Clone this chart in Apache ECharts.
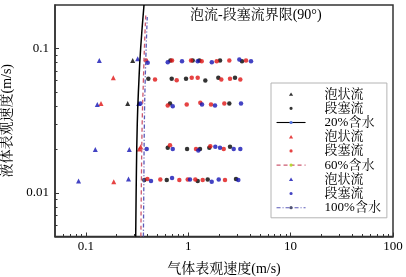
<!DOCTYPE html>
<html>
<head>
<meta charset="utf-8">
<title>泡流-段塞流界限</title>
<script src="https://cdn.jsdelivr.net/npm/echarts@6/dist/echarts.min.js"></script>
</head>
<body style="margin:0">
<div id="main" style="width:406px;height:277px;"></div>
<script>
// 刻度
var xTicks = [0.1, 1, 10, 100];
var xMinorTicks = [0.06, 0.07, 0.08, 0.09, 0.2, 0.3, 0.4, 0.5, 0.6, 0.7, 0.8, 0.9,
    2, 3, 4, 5, 6, 7, 8, 9, 20, 30, 40, 50, 60, 70, 80, 90];
var yTicks = [0.01, 0.1];
var yMinorTicks = [0.006, 0.007, 0.008, 0.009, 0.02, 0.03, 0.04, 0.05, 0.06, 0.07, 0.08, 0.09];

// 20%含水
var bubble20 = [[0.287, 0.0826], [0.2565, 0.0416]];
var slug20 = [
    [0.67, 0.0826], [1.106, 0.0826], [1.284, 0.0826], [2.045, 0.0826], [3.353, 0.0817],
    [0.408, 0.0617], [0.69, 0.0617], [0.952, 0.0617], [1.469, 0.060], [1.968, 0.0627], [2.864, 0.0627],
    [0.664, 0.0416], [2.52, 0.0416],
    [0.631, 0.0206], [0.975, 0.0202], [1.304, 0.0202], [1.607, 0.0206], [2.56, 0.0209],
    [0.3726, 0.0123], [0.617, 0.0123], [1.238, 0.0121], [1.55, 0.0124], [2.929, 0.0125]
];
var line20 = [[0.307, 0.005], [0.31, 0.01], [0.318, 0.03], [0.33, 0.06], [0.343, 0.1], [0.37, 0.2]];

// 60%含水
var bubble60 = [[0.1856, 0.0627], [0.1407, 0.0416], [0.1873, 0.01196], [0.333, 0.0202], [0.3436, 0.0209]];
var slug60 = [
    [0.387, 0.0826], [0.695, 0.0826], [1.065, 0.0826], [1.354, 0.0817], [1.898, 0.0817], [2.52, 0.0826], [3.669, 0.0826],
    [0.474, 0.061], [0.772, 0.0603], [1.082, 0.0627], [1.238, 0.0627], [2.105, 0.061], [2.56, 0.0617], [3.227, 0.061],
    [0.631, 0.0403], [0.967, 0.041], [1.313, 0.0421], [1.67, 0.041], [2.252, 0.0416],
    [0.664, 0.0214], [1.192, 0.0202], [1.644, 0.0211], [2.222, 0.0202],
    [0.399, 0.0125], [0.534, 0.0124], [0.819, 0.0123], [0.989, 0.0124], [1.173, 0.0124], [1.385, 0.0123], [2.288, 0.0123]
];
var line60 = [[0.345, 0.005], [0.348, 0.01], [0.355, 0.03], [0.365, 0.06], [0.375, 0.11], [0.385, 0.17]];

// 100%含水
var bubble100 = [[0.1354, 0.0826], [0.3212, 0.0849], [0.1295, 0.041], [0.3285, 0.0416],
    [0.1238, 0.0200], [0.266, 0.0200], [0.0849, 0.0121], [0.2612, 0.0125]];
var slug100 = [
    [0.402, 0.0796], [0.631, 0.0804], [0.87, 0.0817], [1.238, 0.0817], [1.70, 0.0804], [3.155, 0.0839], [4.105, 0.0817],
    [0.342, 0.0416], [0.706, 0.0399], [1.364, 0.041], [1.827, 0.0403], [3.278, 0.0416],
    [0.393, 0.0202], [0.706, 0.0202], [1.255, 0.0197], [1.839, 0.0209], [2.045, 0.0206], [2.782, 0.0202], [3.227, 0.0202],
    [0.433, 0.0121], [0.695, 0.0127], [1.041, 0.0124], [1.696, 0.01196], [1.986, 0.0124], [3.085, 0.0123]
];
var line100 = [[0.365, 0.005], [0.368, 0.01], [0.373, 0.03], [0.38, 0.06], [0.39, 0.11], [0.398, 0.165]];

var legendNames = {
    b20: '泡状流', s20: '段塞流', l20: '20%含水',
    b60: '泡状流', s60: '段塞流', l60: '60%含水',
    b100: '泡状流', s100: '段塞流', l100: '100%含水'
};

// 图例里的小符号：两端各放一个零面积的点，让图标框和 itemWidth 一样宽，不被拉伸
var triIcon = 'path://M0,2L0,2Z M14.5,0.3L16.6,3.7L12.4,3.7Z M29,2L29,2Z';
var dotIcon = 'path://M0,2L0,2Z M12.9,2A1.6,1.6 0 1 0 16.1,2A1.6,1.6 0 1 0 12.9,2Z M29,2L29,2Z';

var font = '"Liberation Serif", "Noto Serif CJK SC", "Noto Sans CJK SC", serif';
var black = '#000000', red = '#e01414', blue = '#1414b4';

function pts(name, data, symbol, color) {
    return {
        name: name, type: 'scatter', data: data,
        symbol: symbol, symbolSize: symbol === 'triangle' ? 5 : 4.5,
        itemStyle: { color: color }
    };
}
function boundary(name, data, color, type, width) {
    return {
        name: name, type: 'line', data: data, smooth: true,
        symbol: 'none', z: 3,
        lineStyle: { color: color, type: type, width: width }
    };
}

var myChart = echarts.init(document.getElementById('main'));
myChart.setOption({
    animation: false,
    textStyle: { fontFamily: font },
    title: {
        text: '泡流-段塞流界限(90°)',
        left: 190, top: 8, padding: 0,
        textStyle: { fontSize: 14, fontWeight: 'normal', color: '#000', fontFamily: font }
    },
    grid: {
        left: 55, right: 13, top: 5, bottom: 40.5,
        show: true, borderColor: '#333', borderWidth: 1.5,
        outerBoundsMode: 'none'
    },
    legend: {
        orient: 'vertical',
        left: 271, top: 83,
        padding: [4, 6, 3, 5],
        itemWidth: 29, itemHeight: 4, itemGap: 0,
        backgroundColor: '#fff', borderColor: '#b4b4b4', borderWidth: 1,
        data: [
            { name: 'b20', icon: triIcon }, { name: 's20', icon: dotIcon },
            { name: 'l20', lineStyle: { width: 1.1 } },
            { name: 'b60', icon: triIcon }, { name: 's60', icon: dotIcon },
            { name: 'l60', lineStyle: { width: 1.1 } },
            { name: 'b100', icon: triIcon }, { name: 's100', icon: dotIcon },
            { name: 'l100', lineStyle: { width: 1.1 } }
        ],
        formatter: function (n) { return legendNames[n]; },
        textStyle: { fontSize: 13, lineHeight: 14.2, color: '#000', fontFamily: font, padding: [0, 0, 0, 14] }
    },
    xAxis: [{
        type: 'log', min: 0.05, max: 100,
        name: '气体表观速度(m/s)', nameLocation: 'middle', nameGap: 26,
        nameTextStyle: { fontSize: 14, color: '#000', fontFamily: font },
        axisLine: { lineStyle: { color: '#333', width: 1.5 } },
        axisTick: { inside: true, length: 4, customValues: xTicks, lineStyle: { color: '#333' } },
        axisLabel: {
            customValues: xTicks, margin: 4, fontSize: 13, color: '#000', fontFamily: font,
            formatter: function (v) { return String(+(+v).toPrecision(3)); }
        },
        splitLine: { show: false }
    }, {
        type: 'log', min: 0.05, max: 100, position: 'bottom',
        axisLine: { show: false },
        axisTick: { inside: true, length: 2.5, customValues: xMinorTicks, lineStyle: { color: '#333' } },
        axisLabel: { show: false },
        splitLine: { show: false }
    }],
    yAxis: [{
        type: 'log', min: 0.005, max: 0.2,
        name: '液体表观速度(m/s)', nameLocation: 'middle', nameGap: 41,
        nameTextStyle: { fontSize: 14, color: '#000', fontFamily: font },
        axisLine: { lineStyle: { color: '#333', width: 1.5 } },
        axisTick: { inside: true, length: 4, customValues: yTicks, lineStyle: { color: '#333' } },
        axisLabel: {
            customValues: yTicks, margin: 6, fontSize: 13, color: '#000', fontFamily: font,
            formatter: function (v) { return String(+(+v).toPrecision(3)); }
        },
        splitLine: { show: false }
    }, {
        type: 'log', min: 0.005, max: 0.2, position: 'left',
        axisLine: { show: false },
        axisTick: { inside: true, length: 2.5, customValues: yMinorTicks, lineStyle: { color: '#333' } },
        axisLabel: { show: false },
        splitLine: { show: false }
    }],
    series: [
        pts('b20', bubble20, 'triangle', black),
        pts('s20', slug20, 'circle', black),
        boundary('l20', line20, black, 'solid', 1.5),
        pts('b60', bubble60, 'triangle', red),
        pts('s60', slug60, 'circle', red),
        boundary('l60', line60, '#cc5a70', [4, 3], 1.3),
        pts('b100', bubble100, 'triangle', blue),
        pts('s100', slug100, 'circle', blue),
        boundary('l100', line100, '#5a5ab8', [4, 2, 1, 2], 1.3)
    ]
});
</script>
</body>
</html>
